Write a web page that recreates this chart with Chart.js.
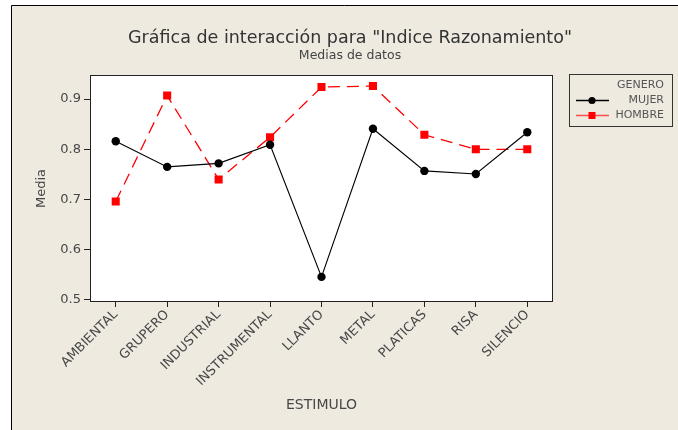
<!DOCTYPE html>
<html>
<head>
<meta charset="utf-8">
<script src="https://cdn.jsdelivr.net/npm/chart.js@4/dist/chart.umd.min.js"></script>
<style>
  html, body { margin: 0; padding: 0; background: #ffffff; }
  #wrap { width: 678px; height: 430px; }
</style>
</head>
<body>
<div id="wrap"><canvas id="c" width="678" height="430"></canvas></div>
<script>
// Stimulus categories and the mean "Indice Razonamiento" per gender
const estimulos = ['AMBIENTAL', 'GRUPERO', 'INDUSTRIAL', 'INSTRUMENTAL', 'LLANTO', 'METAL', 'PLATICAS', 'RISA', 'SILENCIO'];
const mujer  = [0.816, 0.765, 0.772, 0.809, 0.546, 0.841, 0.757, 0.751, 0.834];
const hombre = [0.696, 0.907, 0.740, 0.824, 0.924, 0.926, 0.829, 0.800, 0.800];
const yTicks = [0.5, 0.6, 0.7, 0.8, 0.9];

const titleText = 'Gráfica de interacción para "Indice Razonamiento"';
const subtitleText = 'Medias de datos';
const legendTitle = 'GENERO';

const BG = '#EEEAE0';
const FONT = '"DejaVu Sans", Verdana, sans-serif';
const TXT = '#474747';

// Page background, outer frame and the white plotting panel
const panelPlugin = {
  id: 'panel',
  beforeDraw(chart) {
    const { ctx, chartArea: a, width, height } = chart;
    ctx.save();
    ctx.fillStyle = '#ffffff';
    ctx.fillRect(0, 0, width, height);
    ctx.fillStyle = BG;
    ctx.fillRect(11, 5, width - 11, height - 5);
    ctx.strokeStyle = '#000000';
    ctx.lineWidth = 1;
    ctx.beginPath();
    ctx.moveTo(11.5, height);
    ctx.lineTo(11.5, 5.5);
    ctx.lineTo(width, 5.5);
    ctx.stroke();
    ctx.fillStyle = '#ffffff';
    ctx.fillRect(a.left, a.top, a.right - a.left, a.bottom - a.top);
    ctx.restore();
  },
  beforeDatasetsDraw(chart) {
    const { ctx, chartArea: a } = chart;
    ctx.save();
    ctx.strokeStyle = '#222222';
    ctx.lineWidth = 1;
    ctx.strokeRect(a.left + 0.5, a.top + 0.5, a.right - a.left - 1, a.bottom - a.top - 1);
    ctx.restore();
  }
};

// Heading lines above the plot
const headingPlugin = {
  id: 'heading',
  afterDraw(chart) {
    const { ctx } = chart;
    ctx.save();
    ctx.textAlign = 'center';
    ctx.textBaseline = 'alphabetic';
    ctx.fillStyle = '#333333';
    ctx.font = '17.5px ' + FONT;
    ctx.fillText(titleText, 350, 43);
    ctx.fillStyle = '#444444';
    ctx.font = '12.5px ' + FONT;
    ctx.fillText(subtitleText, 350, 59);
    ctx.restore();
  }
};

// Boxed legend at the right, using each dataset's own styling
const boxLegendPlugin = {
  id: 'boxLegend',
  afterDraw(chart) {
    const { ctx } = chart;
    const bx = 569, by = 74, bw = 103, bh = 52;
    ctx.save();
    ctx.strokeStyle = '#333333';
    ctx.lineWidth = 1;
    ctx.strokeRect(bx + 0.5, by + 0.5, bw, bh);
    ctx.font = '11px ' + FONT;
    ctx.fillStyle = '#555555';
    ctx.textAlign = 'right';
    ctx.textBaseline = 'middle';
    ctx.fillText(legendTitle, 664, 85);
    chart.data.datasets.forEach((ds, i) => {
      const y = 100 + i * 15;
      ctx.strokeStyle = ds.legendLine;
      ctx.lineWidth = 1.5;
      ctx.beginPath();
      ctx.moveTo(576, y + 0.5);
      ctx.lineTo(609, y + 0.5);
      ctx.stroke();
      ctx.fillStyle = ds.pointBackgroundColor;
      if (ds.pointStyle === 'circle') {
        ctx.beginPath();
        ctx.arc(592, y + 0.5, 3.6, 0, Math.PI * 2);
        ctx.fill();
      } else {
        ctx.fillRect(588.5, y - 3, 7, 7);
      }
      ctx.fillStyle = '#555555';
      ctx.fillText(ds.label, 664, y);
    });
    ctx.restore();
  }
};

new Chart(document.getElementById('c'), {
  type: 'line',
  data: {
    labels: estimulos,
    datasets: [
      {
        label: 'MUJER',
        data: mujer,
        borderColor: '#000000',
        borderWidth: 1.1,
        pointStyle: 'circle',
        pointRadius: 4.2,
        pointBackgroundColor: '#000000',
        pointBorderColor: '#000000',
        pointBorderWidth: 0,
        legendLine: '#000000',
        tension: 0
      },
      {
        label: 'HOMBRE',
        data: hombre,
        borderColor: '#FF0000',
        borderWidth: 1.3,
        borderDash: [12, 7],
        pointStyle: 'rect',
        pointRadius: 5.7,
        pointBackgroundColor: '#FF0000',
        pointBorderColor: '#FF0000',
        pointBorderWidth: 0,
        legendLine: '#FF5050',
        tension: 0
      }
    ]
  },
  options: {
    responsive: false,
    animation: false,
    events: [],
    layout: { padding: { left: 0, right: 125, top: 75, bottom: 0 } },
    plugins: {
      legend: { display: false },
      title: { display: false },
      tooltip: { enabled: false }
    },
    scales: {
      x: {
        type: 'category',
        offset: true,
        grid: { display: true, drawOnChartArea: false, drawTicks: true, tickLength: 5, color: '#222222', offset: false },
        border: { display: false },
        ticks: {
          minRotation: 45,
          maxRotation: 45,
          autoSkip: false,
          padding: 0,
          color: TXT,
          font: { family: FONT, size: 13 }
        },
        title: {
          display: true,
          text: 'ESTIMULO',
          color: TXT,
          font: { family: FONT, size: 14 },
          padding: { top: 0, bottom: 16 }
        },
        afterFit(scale) { scale.height = 128; }
      },
      y: {
        min: 0.496,
        max: 0.948,
        grid: { display: true, drawOnChartArea: false, drawTicks: true, tickLength: 6, color: '#222222' },
        border: { display: false },
        afterBuildTicks(scale) { scale.ticks = yTicks.map(v => ({ value: v })); },
        ticks: {
          padding: 3,
          color: TXT,
          font: { family: FONT, size: 13 },
          callback: v => v.toFixed(1)
        },
        title: {
          display: true,
          text: 'Media',
          color: TXT,
          font: { family: FONT, size: 13 },
          padding: { top: 34, bottom: 0 }
        },
        afterFit(scale) { scale.width = 90; }
      }
    }
  },
  plugins: [panelPlugin, headingPlugin, boxLegendPlugin]
});
</script>
</body>
</html>
